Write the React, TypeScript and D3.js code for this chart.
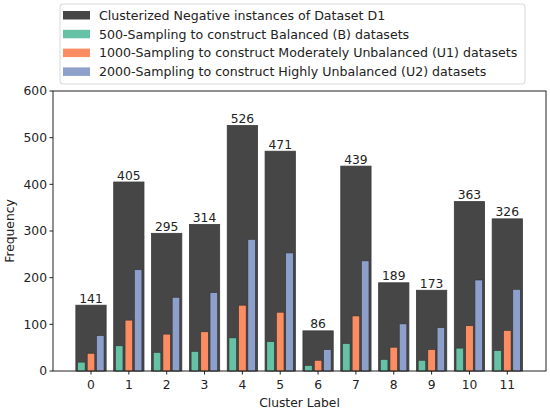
import React from "react";
import * as d3 from "d3";

const categories = ["0", "1", "2", "3", "4", "5", "6", "7", "8", "9", "10", "11"];
const totalCounts = [141, 405, 295, 314, 526, 471, 86, 439, 189, 173, 363, 326];
const balanced500 = [19, 54, 40, 42, 71, 63, 12, 59, 25, 23, 49, 44];
const unbalanced1000 = [38, 109, 79, 84, 141, 126, 23, 118, 51, 46, 97, 87];
const unbalanced2000 = [76, 217, 158, 168, 282, 253, 46, 236, 101, 93, 195, 175];
const yTicks = [0, 100, 200, 300, 400, 500, 600];
const legendLabels = [
  "Clusterized Negative instances of Dataset D1",
  "500-Sampling to construct Balanced (B) datasets",
  "1000-Sampling to construct Moderately Unbalanced (U1) datasets",
  "2000-Sampling to construct Highly Unbalanced (U2) datasets",
];
const colors = ["#464646", "#66c2a5", "#fc8d62", "#8da0cb"];

const W = 550;
const H = 411;
const left = 53;
const right = 546;
const top = 91;
const bottom = 371;
const font = "DejaVu Sans, sans-serif";

export default function App() {
  const xs = d3.scaleLinear().domain([0, 11]).range([91, 507.3]);
  const y = d3.scaleLinear().domain([0, 600]).range([bottom, top]);
  const unit = xs(1) - xs(0);
  const small = [balanced500, unbalanced1000, unbalanced2000];
  const offsets = [-0.255, 0, 0.245];
  return (
    <svg
      width={W}
      height={H}
      style={{ position: "absolute", left: 0, top: 0, background: "#fff" }}
      fontFamily={font}
    >
      {totalCounts.map((v, i) => (
        <g key={"t" + i}>
          <rect
            x={xs(i) - 0.4 * unit}
            y={y(v)}
            width={0.8 * unit}
            height={y(0) - y(v)}
            fill={colors[0]}
            stroke="#3a3a3a"
            strokeWidth={0.8}
          />
          <text
            x={xs(i)}
            y={y(v) - 2.5}
            textAnchor="middle"
            fontSize={12.3}
            fill="#222"
          >
            {v}
          </text>
        </g>
      ))}
      {small.map((series, s) =>
        series.map((v, i) => (
          <rect
            key={"s" + s + "-" + i}
            x={xs(i + offsets[s]) - 0.1 * unit}
            y={y(v)}
            width={0.2 * unit}
            height={y(0) - y(v)}
            fill={colors[s + 1]}
            stroke="#333"
            strokeWidth={0.6}
          />
        ))
      )}
      <rect
        x={left}
        y={top}
        width={right - left}
        height={bottom - top}
        fill="none"
        stroke="#222"
        strokeWidth={1}
      />
      {yTicks.map((t) => (
        <g key={"y" + t}>
          <line x1={left - 3.5} x2={left} y1={y(t)} y2={y(t)} stroke="#222" />
          <text
            x={left - 6}
            y={y(t) + 4.3}
            textAnchor="end"
            fontSize={12.3}
            fill="#222"
          >
            {t}
          </text>
        </g>
      ))}
      {categories.map((c, i) => (
        <g key={"x" + c}>
          <line x1={xs(i)} x2={xs(i)} y1={bottom} y2={bottom + 3.5} stroke="#222" />
          <text
            x={xs(i)}
            y={bottom + 18}
            textAnchor="middle"
            fontSize={12.3}
            fill="#222"
          >
            {c}
          </text>
        </g>
      ))}
      <text
        x={(left + right) / 2}
        y={407}
        textAnchor="middle"
        fontSize={12.3}
        fill="#222"
      >
        Cluster Label
      </text>
      <text
        transform={`translate(14, ${(top + bottom) / 2}) rotate(-90)`}
        textAnchor="middle"
        fontSize={12.3}
        fill="#222"
      >
        Frequency
      </text>
      <rect
        x={60}
        y={4}
        width={465}
        height={80}
        rx={3}
        fill="#fff"
        fillOpacity={0.85}
        stroke="#d8d8d8"
        strokeWidth={1}
      />
      {legendLabels.map((l, i) => (
        <g key={"l" + i}>
          <rect
            x={63}
            y={11 + i * 18.8}
            width={27}
            height={8.5}
            fill={colors[i]}
          />
          <text x={99} y={19.8 + i * 18.8} fontSize={12.6} fill="#222">
            {l}
          </text>
        </g>
      ))}
    </svg>
  );
}
